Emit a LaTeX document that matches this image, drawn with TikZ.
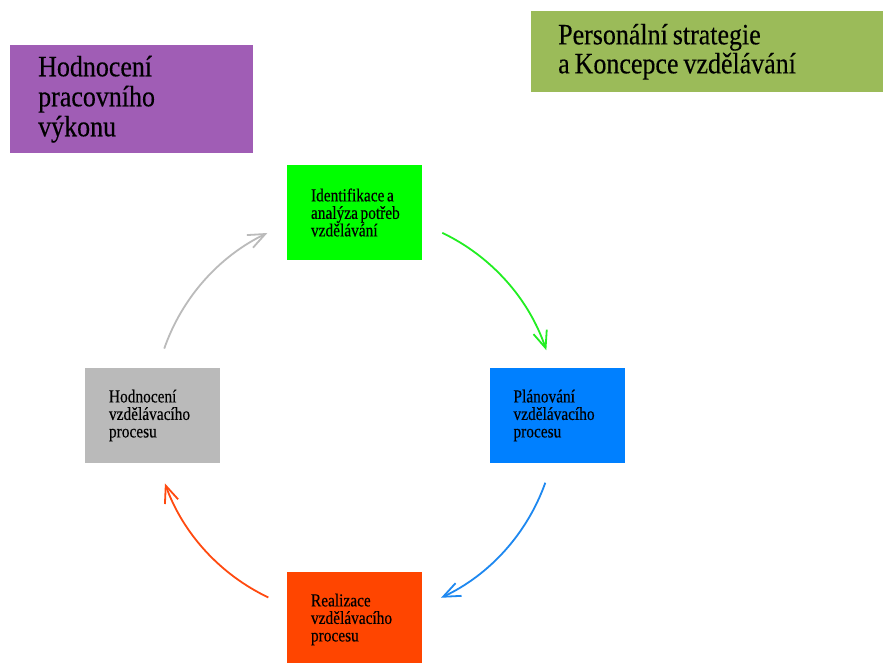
\documentclass[tikz,border=0pt]{standalone}
\usepackage{fontspec}
\setmainfont{Liberation Serif}[FakeStretch=0.88, FakeBold=0.3, WordSpace=0.75]
\newfontfamily\stepfont{Liberation Serif}[FakeStretch=0.84, FakeBold=0.3, WordSpace=0.7]
\usetikzlibrary{arrows.meta}
\definecolor{cpurple}{HTML}{A05DB5}
\definecolor{colive}{HTML}{9BBB59}
\definecolor{cgreen}{HTML}{00FF00}
\definecolor{cblue}{HTML}{0080FF}
\definecolor{cgray}{HTML}{BABABA}
\definecolor{cred}{HTML}{FF4500}
\definecolor{agreen}{HTML}{22EE22}
\definecolor{ablue}{HTML}{1E88F0}
\definecolor{ared}{HTML}{FF4A10}
\definecolor{agray}{HTML}{BBBBBB}
\newcommand\tsp{\hspace{2.6pt}}
\newcommand\bsp{\hspace{5pt}}
\tikzset{
  bigbox/.style={draw=none, rectangle, align=left, anchor=north west,
    font=\fontsize{29.5}{30}\selectfont},
  stepbox/.style={draw=none, rectangle, align=left,
    minimum width=135pt, minimum height=95pt, inner xsep=24pt,
    text width=87pt, font=\stepfont\fontsize{18.3}{17.5}\selectfont},
  cyc/.style={line width=1.8pt, -{Straight Barb[length=17pt,width=14pt,line width=1.8pt]}}
}
\begin{document}
\begin{tikzpicture}[x=1pt,y=1pt]
\clip (0,0) rectangle (883,662);
\fill[white] (0,0) rectangle (883,662);
% big boxes
\node[bigbox, fill=cpurple, minimum width=243pt, minimum height=108pt,
      inner xsep=28pt, text width=187pt] (perf) at (10,617)
      {Hodnocení\\pracovního\\výkonu};
\node[bigbox, fill=colive, minimum width=360pt, minimum height=81pt,
      inner xsep=27pt, text width=306pt, font=\fontsize{29.5}{29}\selectfont] (strat) at (531,651)
      {Personální\bsp strategie\\a\bsp Koncepce\bsp vzdělávání};
% cycle boxes
\node[stepbox, fill=cgreen] (ident) at (354.5,449.5) {\mbox{Identifikace\tsp a}\\\mbox{analýza\tsp potřeb}\\vzdělávání};
\node[stepbox, fill=cblue] (plan) at (557,246.5) {Plánování\\vzdělávacího\\procesu};
\node[stepbox, fill=cred] (real) at (354.5,42.5) {Realizace\\vzdělávacího\\procesu};
\node[stepbox, fill=cgray] (eval) at (152.5,246.5) {Hodnocení\\vzdělávacího\\procesu};
% arcs
\coordinate (c) at (355,247);
\coordinate (g1) at ([shift={(64.4:202)}]c);
\coordinate (b1) at ([shift={(-19.6:202)}]c);
\coordinate (r1) at ([shift={(-115.4:202)}]c);
\coordinate (s1) at ([shift={(160.8:202)}]c);
\draw[cyc, agreen] (g1) arc[start angle=64.4, end angle=18.7, radius=202];
\draw[cyc, ablue] (b1) arc[start angle=-19.6, end angle=-64.8, radius=202];
\draw[cyc, ared] (r1) arc[start angle=-115.4, end angle=-160.2, radius=202];
\draw[cyc, agray] (s1) arc[start angle=160.8, end angle=115.7, radius=202];
\end{tikzpicture}
\end{document}
